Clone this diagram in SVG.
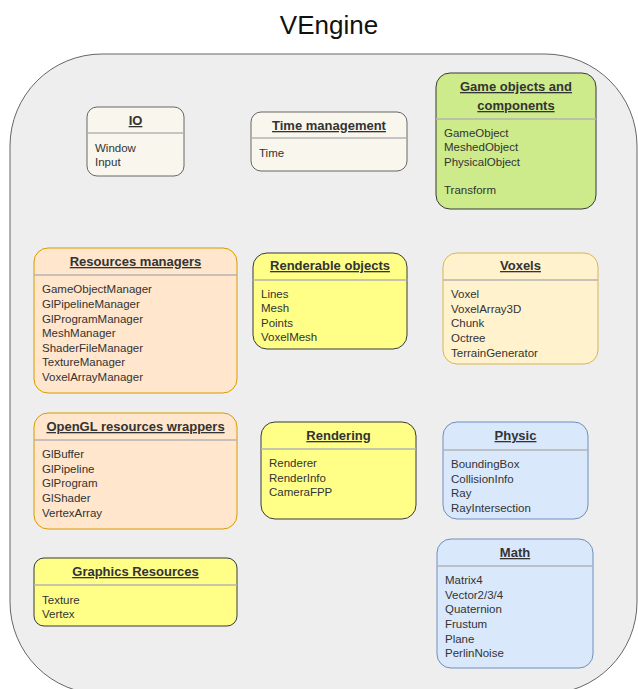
<svg xmlns="http://www.w3.org/2000/svg" width="638" height="689" viewBox="0 0 638 689">
<style>
text{font-family:"Liberation Sans",Arial,sans-serif;fill:#333}
.t{font-size:13px;font-weight:bold;text-anchor:middle;text-decoration:underline}
.i{font-size:11.5px}
.sep{stroke:#b3b3b3;stroke-width:1.5}
.cream{fill:#f9f7ed;stroke:#666;stroke-width:1}
.green{fill:#cdeb8b;stroke:#36393d;stroke-width:1}
.orange{fill:#ffe6cc;stroke:#d79b00;stroke-width:1}
.yellow{fill:#ffff88;stroke:#36393d;stroke-width:1}
.lyellow{fill:#fff2cc;stroke:#d6b656;stroke-width:1}
.blue{fill:#dae8fc;stroke:#6c8ebf;stroke-width:1}
</style>
<rect width="638" height="689" fill="#fff"/>
<text x="329" y="34" font-size="26" text-anchor="middle" fill="#111" style="fill:#111">VEngine</text>
<rect x="10" y="54" width="627" height="640" rx="92" ry="92" fill="#eeeeee" stroke="#666" stroke-width="1"/>
<g id="connectors"></g>
<g id="io">
<rect class="cream" x="87" y="107" width="97" height="69" rx="10"/>
<line class="sep" x1="87" y1="133" x2="184" y2="133"/>
<text class="t" x="135.5" y="125">IO</text>
<text class="i" x="95" y="152">Window</text>
<text class="i" x="95" y="166">Input</text>
</g>
<g id="time">
<rect class="cream" x="251" y="112" width="156" height="59" rx="10"/>
<line class="sep" x1="251" y1="138" x2="407" y2="138"/>
<text class="t" x="329" y="130">Time management</text>
<text class="i" x="259" y="157">Time</text>
</g>
<g id="gameobjects">
<rect class="green" x="436" y="73" width="160" height="136" rx="14"/>
<line class="sep" x1="436" y1="119" x2="596" y2="119"/>
<text class="t" x="516" y="91">Game objects and</text>
<text class="t" x="516" y="110">components</text>
<text class="i" x="444" y="137">GameObject</text>
<text class="i" x="444" y="151">MeshedObject</text>
<text class="i" x="444" y="166">PhysicalObject</text>
<text class="i" x="444" y="194">Transform</text>
</g>
<g id="resmanagers">
<rect class="orange" x="34" y="248" width="203" height="145" rx="14"/>
<line class="sep" x1="34" y1="275" x2="237" y2="275"/>
<text class="t" x="135.5" y="266">Resources managers</text>
<text class="i" x="42" y="293">GameObjectManager</text>
<text class="i" x="42" y="308">GlPipelineManager</text>
<text class="i" x="42" y="323">GlProgramManager</text>
<text class="i" x="42" y="337">MeshManager</text>
<text class="i" x="42" y="352">ShaderFileManager</text>
<text class="i" x="42" y="366">TextureManager</text>
<text class="i" x="42" y="381">VoxelArrayManager</text>
</g>
<g id="renderable">
<rect class="yellow" x="253" y="253" width="154" height="96" rx="14"/>
<line class="sep" x1="253" y1="280" x2="407" y2="280"/>
<text class="t" x="330" y="270">Renderable objects</text>
<text class="i" x="261" y="298">Lines</text>
<text class="i" x="261" y="312">Mesh</text>
<text class="i" x="261" y="327">Points</text>
<text class="i" x="261" y="341">VoxelMesh</text>
</g>
<g id="voxels">
<rect class="lyellow" x="443" y="253" width="155" height="111" rx="14"/>
<line class="sep" x1="443" y1="280" x2="598" y2="280"/>
<text class="t" x="520.5" y="270">Voxels</text>
<text class="i" x="451" y="298">Voxel</text>
<text class="i" x="451" y="313">VoxelArray3D</text>
<text class="i" x="451" y="327">Chunk</text>
<text class="i" x="451" y="342">Octree</text>
<text class="i" x="451" y="357">TerrainGenerator</text>
</g>
<g id="glwrappers">
<rect class="orange" x="34" y="413" width="203" height="116" rx="14"/>
<line class="sep" x1="34" y1="440" x2="237" y2="440"/>
<text class="t" x="135.5" y="431">OpenGL resources wrappers</text>
<text class="i" x="42" y="458">GlBuffer</text>
<text class="i" x="42" y="473">GlPipeline</text>
<text class="i" x="42" y="487">GlProgram</text>
<text class="i" x="42" y="502">GlShader</text>
<text class="i" x="42" y="517">VertexArray</text>
</g>
<g id="rendering">
<rect class="yellow" x="261" y="422" width="155" height="97" rx="14"/>
<line class="sep" x1="261" y1="449" x2="416" y2="449"/>
<text class="t" x="338.5" y="440">Rendering</text>
<text class="i" x="269" y="467">Renderer</text>
<text class="i" x="269" y="482">RenderInfo</text>
<text class="i" x="269" y="496">CameraFPP</text>
</g>
<g id="physic">
<rect class="blue" x="443" y="422" width="145" height="97" rx="14"/>
<line class="sep" x1="443" y1="450" x2="588" y2="450"/>
<text class="t" x="515.5" y="440">Physic</text>
<text class="i" x="451" y="468">BoundingBox</text>
<text class="i" x="451" y="483">CollisionInfo</text>
<text class="i" x="451" y="497">Ray</text>
<text class="i" x="451" y="512">RayIntersection</text>
</g>
<g id="math">
<rect class="blue" x="437" y="539" width="156" height="129" rx="14"/>
<line class="sep" x1="437" y1="566" x2="593" y2="566"/>
<text class="t" x="515" y="557">Math</text>
<text class="i" x="445" y="584">Matrix4</text>
<text class="i" x="445" y="599">Vector2/3/4</text>
<text class="i" x="445" y="613">Quaternion</text>
<text class="i" x="445" y="628">Frustum</text>
<text class="i" x="445" y="643">Plane</text>
<text class="i" x="445" y="657">PerlinNoise</text>
</g>
<g id="graphicsres">
<rect class="yellow" x="34" y="558" width="203" height="68" rx="10"/>
<line class="sep" x1="34" y1="585" x2="237" y2="585"/>
<text class="t" x="135.5" y="576">Graphics Resources</text>
<text class="i" x="42" y="604">Texture</text>
<text class="i" x="42" y="618">Vertex</text>
</g>
</svg>
